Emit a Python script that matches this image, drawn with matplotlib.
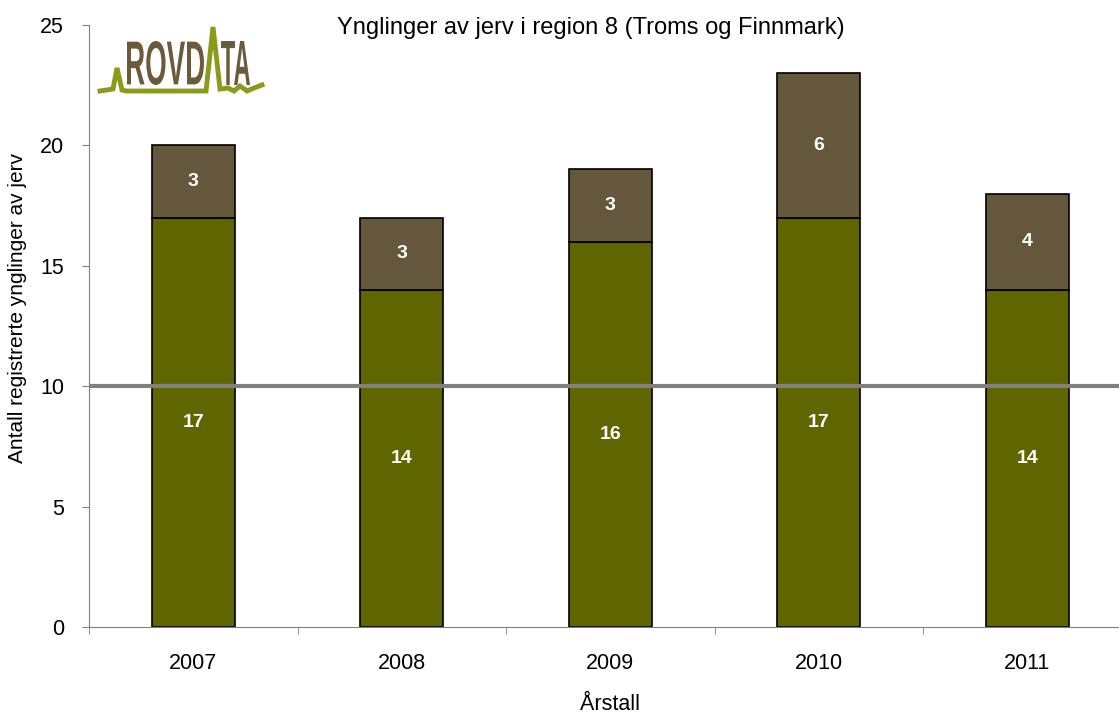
import matplotlib
matplotlib.use("Agg")
import matplotlib.pyplot as plt
import numpy as np
from matplotlib.textpath import TextPath
from matplotlib.font_manager import FontProperties
from matplotlib.patches import PathPatch
from matplotlib.transforms import Affine2D

plt.rcParams['font.family'] = ['Liberation Sans', 'DejaVu Sans']

years = ["2007", "2008", "2009", "2010", "2011"]
documented = [17, 14, 16, 17, 14]
probable = [3, 3, 3, 6, 4]
target = 10

green = "#5F6600"
brown = "#65573C"

W, H = 1119, 717
fig = plt.figure(figsize=(W/100, H/100), dpi=100)
left, right, top, bottom = 89, 1131.5, 25, 627
ax = fig.add_axes([left/W, 1-bottom/H, (right-left)/W, (bottom-top)/H])

x = np.arange(len(years))
ax.bar(x, documented, width=0.4, color=green, edgecolor="black", linewidth=1.2, zorder=2)
ax.bar(x, probable, width=0.4, bottom=documented, color=brown, edgecolor="black", linewidth=1.2, zorder=2)
for xi, d, p in zip(x, documented, probable):
    ax.text(xi, d/2, str(d), ha="center", va="center", color="white", fontsize=14, fontweight="bold", zorder=4)
    ax.text(xi, d + p/2, str(p), ha="center", va="center", color="white", fontsize=14, fontweight="bold", zorder=4)

ax.axhline(target, color="#808080", linewidth=3, zorder=3)

ax.set_xlim(-0.5, len(years)-0.5)
ax.set_ylim(0, 25)
ax.set_yticks([0, 5, 10, 15, 20, 25])
ax.set_xticks(x)
ax.set_xticklabels(years)
ax.set_xticks(np.arange(-0.5, len(years)), minor=True)
ax.tick_params(axis="x", which="major", length=0, pad=19, labelsize=15.5)
ax.tick_params(axis="x", which="minor", length=5, color="#808080", direction="out")
ax.tick_params(axis="y", length=5, color="#808080", direction="out", labelsize=15.5, pad=13)
for s in ["top", "right"]:
    ax.spines[s].set_visible(False)
for s in ["left", "bottom"]:
    ax.spines[s].set_color("#808080")

fig.text(591/W, 1-28/H, "Ynglinger av jerv i region 8 (Troms og Finnmark)", ha="center", va="center", fontsize=17)
fig.text(18/W, 1-308/H, "Antall registrerte ynglinger av jerv", ha="center", va="center", rotation=90, fontsize=15)
fig.text(610/W, 1-705/H, "Årstall", ha="center", va="center", fontsize=15.5)

# logo
lg = fig.add_axes([0, 0, 1, 1], facecolor="none")
lg.set_xlim(0, W)
lg.set_ylim(H, 0)
lg.axis("off")

def logo_text(s, x0, x1, ytop, ybase):
    fp = FontProperties(family="Liberation Sans", weight="bold")
    tp = TextPath((0, 0), s, size=1, prop=fp)
    ext = tp.get_extents()
    sx = (x1 - x0) / ext.width
    sy = (ybase - ytop) / ext.height
    tr = Affine2D().translate(-ext.x0, -ext.y0).scale(sx, -sy).translate(x0, ybase)
    patch = PathPatch(tr.transform_path(tp), facecolor="#6B5A3C", edgecolor="none", zorder=4)
    lg.add_patch(patch)

logo_text("ROVD", 127, 204, 41, 85)
logo_text("TA", 221, 250, 41, 85)
lx = [100, 113, 117, 122, 126, 206, 213, 220, 228, 234, 240, 247, 254, 262]
ly = [91, 89, 68, 90, 91, 91, 27, 89, 88, 91, 86, 91, 88, 85]
lg.plot(lx, ly, color="#8A9A1B", linewidth=3.5, solid_joinstyle="miter", zorder=5)

fig.savefig("out.png", dpi=100)
